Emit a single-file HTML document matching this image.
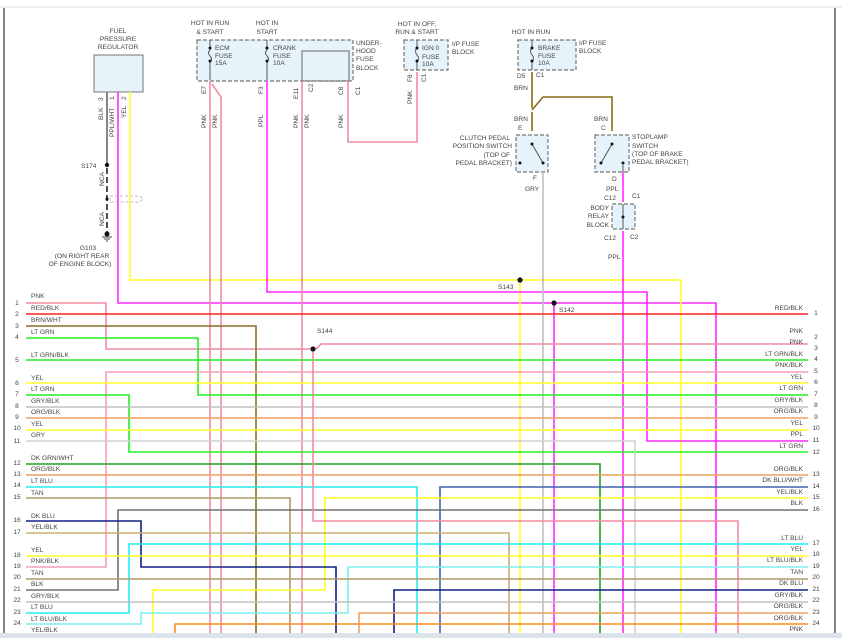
<!DOCTYPE html>
<html><head><meta charset="utf-8"><style>
html,body{margin:0;padding:0;background:#fff;width:842px;height:638px;overflow:hidden}
svg{display:block}
text{font-family:"Liberation Sans",sans-serif;font-size:6.6px;fill:#444}
.w{fill:none;stroke-width:1.6}
.b{fill:#e6f3fb;stroke:#777;stroke-width:1.2;stroke-dasharray:4 2}
</style></head><body>
<svg width="842" height="638" viewBox="0 0 842 638" xmlns="http://www.w3.org/2000/svg">
<rect width="842" height="638" fill="#fff"/>
<line x1="0" y1="7" x2="842" y2="7" stroke="#ddd" stroke-width="1"/>
<line x1="4" y1="8" x2="4" y2="633" stroke="#333" stroke-width="1.2"/>
<line x1="835" y1="8" x2="835" y2="633" stroke="#333" stroke-width="1.2"/>

<rect x="94" y="55" width="49" height="37" fill="#e6f3fb" stroke="#777" stroke-width="1"/>
<rect class="b" x="197" y="40" width="156" height="41"/>
<rect class="b" x="404" y="40" width="44" height="30"/>
<rect class="b" x="518" y="40" width="58" height="30"/>
<rect class="b" x="516" y="135" width="32" height="37"/>
<rect class="b" x="595" y="135" width="34" height="37"/>
<rect class="b" x="612" y="204" width="23" height="25"/>
<rect x="302" y="51" width="47" height="30" fill="none" stroke="#666" stroke-width="1"/>

<g stroke="#555" stroke-width="1" fill="none">
<path d="M210 40V50M210 62V80M210 50q-3 3 0 6q3 3 0 6"/>
<path d="M267 40V50M267 62V80M267 50q-3 3 0 6q3 3 0 6"/>
<path d="M417 40V48M417 62V70M417 48q-3 3 0 7q3 3 0 7"/>
<path d="M532 40V48M532 62V70M532 48q-3 3 0 7q3 3 0 7"/>
<path d="M532 144L543 163M612 144L601 163M623 165V172M623 204V229"/>
</g>
<g fill="#111">
<circle cx="210" cy="48" r="1.5"/><circle cx="210" cy="61" r="1.5"/>
<circle cx="267" cy="48" r="1.5"/><circle cx="267" cy="61" r="1.5"/>
<circle cx="417" cy="48" r="1.5"/><circle cx="417" cy="61" r="1.5"/>
<circle cx="532" cy="48" r="1.5"/><circle cx="532" cy="61" r="1.5"/>
<circle cx="532" cy="144" r="1.5"/><circle cx="543" cy="163" r="1.5"/><circle cx="520" cy="163" r="1.5"/>
<circle cx="612" cy="144" r="1.5"/><circle cx="601" cy="163" r="1.5"/><circle cx="623" cy="163" r="1.5"/>
<circle cx="623" cy="217" r="1.5"/>
</g>

<path class="w" stroke="#666" d="M107 92V165"/>
<path stroke="#222" stroke-width="1.6" stroke-dasharray="6 3" fill="none" d="M107 168V232"/>
<path stroke="#bbb" stroke-width="1" stroke-dasharray="3 2" fill="none" d="M110 196h30l3 3l-3 3h-30z"/>
<path stroke="#444" d="M102 237h10M104 239h6M106 241h2"/>
<path class="w" stroke="#ff2aff" d="M118 92V303H554H716V633"/>
<path class="w" stroke="#ffff22" d="M130 92V280H681V633"/>
<path class="w" stroke="#ffff22" d="M520 280V633"/>
<path class="w" stroke="#ff2aff" d="M554 303V633"/>
<path class="w" stroke="#f08ca0" d="M210 81V633M212 84L221 97V633"/>
<path class="w" stroke="#ff2aff" d="M267 81V292H647V441H808"/>
<path class="w" stroke="#f08ca0" d="M302 81V633"/>
<path class="w" stroke="#f08ca0" d="M348 81V142H417V72"/>
<path class="w" stroke="#8b6914" d="M532 72V108M532 110L543 97H612V131"/>
<path class="w" stroke="#8b6914" d="M532 112V131"/>
<path class="w" stroke="#c0c0c0" d="M543 172V633"/>
<path class="w" stroke="#ff2aff" d="M623 172V202M623 231V633"/>

<path class="w" stroke="#f08ca0" d="M26 303H106V349H310M316 349l5-5H808"/>
<path class="w" stroke="#ff2020" d="M26 314H808"/>
<path class="w" stroke="#8b6a2a" d="M26 326H256V633"/>
<path class="w" stroke="#22ee22" d="M26 338H198V395H808"/>
<path class="w" stroke="#22ee22" d="M26 360H808"/>
<path class="w" stroke="#f4a0b0" d="M808 372H106V567H26"/>
<path class="w" stroke="#ffff22" d="M26 383H808"/>
<path class="w" stroke="#22ee22" d="M26 395H129V452H808"/>
<path class="w" stroke="#c0c0c0" d="M26 407H808"/>
<path class="w" stroke="#f0a060" d="M26 418H808"/>
<path class="w" stroke="#ffff22" d="M26 430H808"/>
<path class="w" stroke="#d0d0d0" d="M26 441H635V633"/>
<path class="w" stroke="#22a022" d="M26 464H600V633"/>
<path class="w" stroke="#f0a060" d="M26 475H808"/>
<path class="w" stroke="#22eeee" d="M26 487H417V633"/>
<path class="w" stroke="#4060b0" d="M808 487H440V633"/>
<path class="w" stroke="#b09a6a" d="M26 498H290V633"/>
<path class="w" stroke="#ffff22" d="M808 498H325V590H153V633"/>
<path class="w" stroke="#707070" d="M808 510H118V590H26"/>
<path class="w" stroke="#102080" d="M26 521H141V567H336V633"/>
<path class="w" stroke="#f08ca0" d="M313 352V521H738V633"/>
<path class="w" stroke="#c8b070" d="M26 533H509V633"/>
<path class="w" stroke="#22eeee" d="M808 544H129V613H26"/>
<path class="w" stroke="#ffff22" d="M26 556H808"/>
<path class="w" stroke="#80eeee" d="M808 567H348V613H141V624H26"/>
<path class="w" stroke="#b09a6a" d="M26 579H808"/>
<path class="w" stroke="#102080" d="M808 590H394V633"/>
<path class="w" stroke="#c0c0c0" d="M26 602H808"/>
<path class="w" stroke="#f0a060" d="M808 613H359V633"/>
<path class="w" stroke="#ff8c20" d="M808 624H175V633"/>

<g fill="#111">
<circle cx="107" cy="165" r="2.2"/><circle cx="107" cy="199" r="1.5"/><circle cx="107" cy="234" r="2.5"/>
<circle cx="520" cy="280" r="2.6"/><circle cx="554" cy="303" r="2.6"/><circle cx="313" cy="349" r="2.6"/>
</g>

<rect x="0" y="633" width="842" height="5" fill="#dde3ea"/>

<g text-anchor="middle">
<text x="118" y="33">FUEL</text><text x="118" y="41">PRESSURE</text><text x="118" y="49">REGULATOR</text>
<text x="210" y="25">HOT IN RUN</text><text x="210" y="34">&amp; START</text>
<text x="267" y="25">HOT IN</text><text x="267" y="34">START</text>
<text x="417" y="26">HOT IN OFF,</text><text x="417" y="34">RUN &amp; START</text>
<text x="531" y="34">HOT IN RUN</text>
<text x="88" y="250">G103</text><text x="82" y="258">(ON RIGHT REAR</text><text x="80" y="266">OF ENGINE BLOCK)</text>
</g>
<text x="215" y="50">ECM</text><text x="215" y="58">FUSE</text><text x="215" y="65">15A</text>
<text x="273" y="50">CRANK</text><text x="273" y="58">FUSE</text><text x="273" y="65">10A</text>
<text x="356" y="45">UNDER-</text><text x="356" y="53">HOOD</text><text x="356" y="61">FUSE</text><text x="356" y="70">BLOCK</text>
<text x="422" y="50">IGN 0</text><text x="422" y="59">FUSE</text><text x="422" y="66">10A</text>
<text x="452" y="46">I/P FUSE</text><text x="452" y="54">BLOCK</text>
<text x="538" y="50">BRAKE</text><text x="538" y="58">FUSE</text><text x="538" y="65">10A</text>
<text x="579" y="45">I/P FUSE</text><text x="579" y="53">BLOCK</text>
<text x="517" y="78">D5</text><text x="536" y="77">C1</text>
<text x="514" y="90">BRN</text><text x="514" y="121">BRN</text><text x="518" y="130">E</text>
<text x="594" y="121">BRN</text><text x="601" y="130">C</text>
<g text-anchor="end"><text x="510" y="140">CLUTCH PEDAL</text><text x="512" y="148">POSITION SWITCH</text><text x="510" y="157">(TOP OF</text><text x="512" y="165">PEDAL BRACKET)</text>
<text x="609" y="210">BODY</text><text x="609" y="218">RELAY</text><text x="609" y="227">BLOCK</text></g>
<text x="632" y="139">STOPLAMP</text><text x="632" y="148">SWITCH</text><text x="632" y="156">(TOP OF BRAKE</text><text x="632" y="164">PEDAL BRACKET)</text>
<text x="533" y="180">F</text><text x="525" y="191">GRY</text>
<text x="612" y="181">D</text><text x="606" y="191">PPL</text><text x="604" y="200">C12</text><text x="632" y="198">C1</text>
<text x="604" y="240">C12</text><text x="630" y="239">C2</text><text x="608" y="259">PPL</text>
<text x="81" y="168">S174</text>
<text x="498" y="289">S143</text><text x="559" y="312">S142</text><text x="317" y="333">S144</text>

<g>
<text transform="translate(103,120) rotate(-90)">BLK</text>
<text transform="translate(103,101) rotate(-90)">3</text>
<text transform="translate(114,137) rotate(-90)">PPL/WHT</text>
<text transform="translate(114,100) rotate(-90)">1</text>
<text transform="translate(126,118) rotate(-90)">YEL</text>
<text transform="translate(126,100) rotate(-90)">2</text>
<text transform="translate(104,186) rotate(-90)">NCA</text>
<text transform="translate(104,226) rotate(-90)">NCA</text>
<text transform="translate(206,94) rotate(-90)">E7</text>
<text transform="translate(206,128) rotate(-90)">PNK</text>
<text transform="translate(217,128) rotate(-90)">PNK</text>
<text transform="translate(263,94) rotate(-90)">F3</text>
<text transform="translate(263,127) rotate(-90)">PPL</text>
<text transform="translate(298,99) rotate(-90)">E11</text>
<text transform="translate(298,128) rotate(-90)">PNK</text>
<text transform="translate(309,128) rotate(-90)">PNK</text>
<text transform="translate(313,92) rotate(-90)">C2</text>
<text transform="translate(343,95) rotate(-90)">C8</text>
<text transform="translate(343,128) rotate(-90)">PNK</text>
<text transform="translate(360,95) rotate(-90)">C1</text>
<text transform="translate(412,82) rotate(-90)">F8</text>
<text transform="translate(412,104) rotate(-90)">PNK</text>
<text transform="translate(426,82) rotate(-90)">C1</text>
</g>

<g>
<text x="31" y="298">PNK</text><text x="31" y="310">RED/BLK</text><text x="31" y="322">BRN/WHT</text><text x="31" y="334">LT GRN</text>
<text x="31" y="357">LT GRN/BLK</text><text x="31" y="380">YEL</text><text x="31" y="391">LT GRN</text><text x="31" y="403">GRY/BLK</text>
<text x="31" y="414">ORG/BLK</text><text x="31" y="426">YEL</text><text x="31" y="437">GRY</text><text x="31" y="460">DK GRN/WHT</text>
<text x="31" y="471">ORG/BLK</text><text x="31" y="483">LT BLU</text><text x="31" y="495">TAN</text><text x="31" y="518">DK BLU</text>
<text x="31" y="529">YEL/BLK</text><text x="31" y="552">YEL</text><text x="31" y="563">PNK/BLK</text><text x="31" y="575">TAN</text>
<text x="31" y="586">BLK</text><text x="31" y="598">GRY/BLK</text><text x="31" y="609">LT BLU</text><text x="31" y="621">LT BLU/BLK</text><text x="31" y="632">YEL/BLK</text>
</g>
<g text-anchor="middle">
<text x="17" y="305">1</text><text x="17" y="316">2</text><text x="17" y="328">3</text><text x="17" y="339">4</text><text x="17" y="362">5</text>
<text x="17" y="385">6</text><text x="17" y="396">7</text><text x="17" y="408">8</text><text x="17" y="419">9</text><text x="17" y="430">10</text>
<text x="17" y="443">11</text><text x="17" y="465">12</text><text x="17" y="476">13</text><text x="17" y="487">14</text><text x="17" y="499">15</text>
<text x="17" y="522">16</text><text x="17" y="534">17</text><text x="17" y="557">18</text><text x="17" y="568">19</text><text x="17" y="579">20</text>
<text x="17" y="591">21</text><text x="17" y="602">22</text><text x="17" y="614">23</text><text x="17" y="625">24</text>
</g>
<g text-anchor="end">
<text x="803" y="310">RED/BLK</text><text x="803" y="333">PNK</text><text x="803" y="344">PNK</text><text x="803" y="356">LT GRN/BLK</text>
<text x="803" y="367">PNK/BLK</text><text x="803" y="379">YEL</text><text x="803" y="390">LT GRN</text><text x="803" y="402">GRY/BLK</text>
<text x="803" y="413">ORG/BLK</text><text x="803" y="425">YEL</text><text x="803" y="436">PPL</text><text x="803" y="448">LT GRN</text>
<text x="803" y="471">ORG/BLK</text><text x="803" y="482">DK BLU/WHT</text><text x="803" y="494">YEL/BLK</text><text x="803" y="505">BLK</text>
<text x="803" y="540">LT BLU</text><text x="803" y="551">YEL</text><text x="803" y="562">LT BLU/BLK</text><text x="803" y="574">TAN</text>
<text x="803" y="585">DK BLU</text><text x="803" y="597">GRY/BLK</text><text x="803" y="608">ORG/BLK</text><text x="803" y="620">ORG/BLK</text><text x="803" y="631">PNK</text>
</g>
<g text-anchor="middle">
<text x="816" y="315">1</text><text x="816" y="339">2</text><text x="816" y="350">3</text><text x="816" y="361">4</text><text x="816" y="373">5</text>
<text x="816" y="384">6</text><text x="816" y="396">7</text><text x="816" y="407">8</text><text x="816" y="419">9</text><text x="816" y="430">10</text>
<text x="816" y="442">11</text><text x="816" y="454">12</text><text x="816" y="476">13</text><text x="816" y="488">14</text><text x="816" y="499">15</text>
<text x="816" y="511">16</text><text x="816" y="545">17</text><text x="816" y="556">18</text><text x="816" y="568">19</text><text x="816" y="579">20</text>
<text x="816" y="591">21</text><text x="816" y="602">22</text><text x="816" y="614">23</text><text x="816" y="625">24</text>
</g>
</svg>
</body></html>
